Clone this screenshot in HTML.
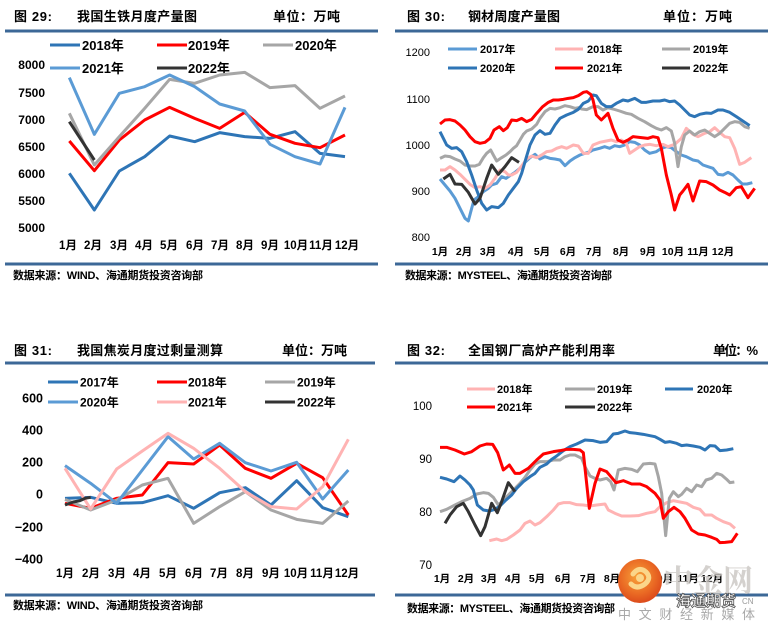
<!DOCTYPE html>
<html><head><meta charset="utf-8"><style>
html,body{margin:0;padding:0;background:#fff;}
svg{display:block;}
text{font-family:"Liberation Sans","Noto Sans CJK SC",sans-serif;fill:#000;}
.t{font-size:13px;font-weight:bold;}
.src{font-size:11px;font-weight:bold;}
.lg{font-weight:bold;}
.yl{font-weight:bold;}
.ser{fill:none;stroke-width:9;stroke-linejoin:round;stroke-linecap:butt;}
</style></head><body>
<svg width="773" height="632" viewBox="0 0 773 632" xmlns="http://www.w3.org/2000/svg">
<rect width="773" height="632" fill="#fff"/>

<!-- ============ CHART 29 ============ -->
<text class="t" x="14" y="21" textLength="38" lengthAdjust="spacing">图 29:</text>
<text class="t" x="77" y="21" textLength="120" lengthAdjust="spacing">我国生铁月度产量图</text>
<text class="t" x="273" y="21" textLength="67" lengthAdjust="spacing">单位：万吨</text>
<rect x="5" y="29.5" width="373" height="3" fill="#3C6897"/>
<g stroke-width="3">
<line x1="50" y1="45" x2="80" y2="45" stroke="#2E75B6"/>
<line x1="157" y1="45" x2="187" y2="45" stroke="#FF0000"/>
<line x1="263" y1="45" x2="293" y2="45" stroke="#A6A6A6"/>
<line x1="50" y1="68" x2="80" y2="68" stroke="#5B9BD5"/>
<line x1="157" y1="68" x2="187" y2="68" stroke="#333333"/>
</g>
<g class="lg" font-size="13">
<text x="82" y="50">2018年</text><text x="188" y="50">2019年</text><text x="295" y="50">2020年</text>
<text x="82" y="73">2021年</text><text x="188" y="73">2022年</text>
</g>
<g class="yl" font-size="12" text-anchor="end">
<text x="45" y="69">8000</text><text x="45" y="97">7500</text><text x="45" y="124">7000</text>
<text x="45" y="151">6500</text><text x="45" y="178">6000</text><text x="45" y="205">5500</text>
<text x="45" y="232">5000</text>
</g>
<g class="yl" font-size="11.5" text-anchor="middle">
<text x="68" y="249">1月</text><text x="93" y="249">2月</text><text x="119" y="249">3月</text>
<text x="144" y="249">4月</text><text x="169" y="249">5月</text><text x="195" y="249">6月</text>
<text x="220" y="249">7月</text><text x="245" y="249">8月</text><text x="270" y="249">9月</text>
<text x="296" y="249">10月</text><text x="321" y="249">11月</text><text x="347" y="249">12月</text>
</g>
<g transform="translate(30,55) scale(0.33333)">
<polyline class="ser" stroke="#2E75B6" points="118,355 193,465 268,348 344,305 419,243 494,260 569,233 644,245 720,250 795,230 870,295 945,305"/>
<polyline class="ser" stroke="#FF0000" points="118,258 193,347 268,255 344,195 419,157 494,190 569,220 644,172 720,238 795,265 870,278 945,240"/>
<polyline class="ser" stroke="#A6A6A6" points="118,175 193,330 268,245 344,160 419,73 494,85 569,60 644,52 720,98 795,92 870,160 945,123"/>
<polyline class="ser" stroke="#5B9BD5" points="118,68 193,238 268,115 344,95 419,60 494,95 569,147 644,168 720,268 795,305 870,327 945,157"/>
<polyline class="ser" stroke="#333333" points="118,200 193,315"/>
</g>
<rect x="5" y="262.5" width="373" height="3" fill="#3C6897"/>
<text class="src" x="13" y="279" textLength="190" lengthAdjust="spacing">数据来源：WIND、海通期货投资咨询部</text>

<!-- ============ CHART 30 ============ -->
<text class="t" x="407" y="21" textLength="38" lengthAdjust="spacing">图 30:</text>
<text class="t" x="468" y="21" textLength="92" lengthAdjust="spacing">钢材周度产量图</text>
<text class="t" x="663" y="21" textLength="69" lengthAdjust="spacing">单位：万吨</text>
<rect x="395" y="29.5" width="373" height="3" fill="#3C6897"/>
<g stroke-width="3">
<line x1="448" y1="49" x2="477" y2="49" stroke="#5B9BD5"/>
<line x1="555" y1="49" x2="583" y2="49" stroke="#FFB3B3"/>
<line x1="662" y1="49" x2="690" y2="49" stroke="#A6A6A6"/>
<line x1="448" y1="68" x2="477" y2="68" stroke="#2E75B6"/>
<line x1="555" y1="68" x2="583" y2="68" stroke="#FF0000"/>
<line x1="662" y1="68" x2="690" y2="68" stroke="#333333"/>
</g>
<g class="lg" font-size="11">
<text x="480" y="53">2017年</text><text x="587" y="53">2018年</text><text x="693" y="53">2019年</text>
<text x="480" y="72">2020年</text><text x="587" y="72">2021年</text><text x="693" y="72">2022年</text>
</g>
<g font-size="11" text-anchor="end">
<text x="430" y="56">1200</text><text x="430" y="103">1100</text><text x="430" y="149">1000</text>
<text x="430" y="195">900</text><text x="430" y="241">800</text>
</g>
<g class="yl" font-size="10.5" text-anchor="middle">
<text x="440" y="255">1月</text><text x="464" y="255">2月</text><text x="488" y="255">3月</text>
<text x="516" y="255">4月</text><text x="542" y="255">5月</text><text x="568" y="255">6月</text>
<text x="594" y="255">7月</text><text x="621" y="255">8月</text><text x="648" y="255">9月</text>
<text x="673" y="255">10月</text><text x="698" y="255">11月</text><text x="723" y="255">12月</text>
</g>
<g transform="translate(420,85) scale(0.33333)">
<polyline class="ser" stroke="#5B9BD5" points="60,282 75,300 90,318 105,340 120,370 135,400 145,408 155,370 162,345 175,335 190,320 205,310 215,300 230,295 245,275 258,280 270,272 285,262 300,250 315,232 330,218 345,208 360,222 375,215 390,220 405,222 420,225 435,242 450,228 465,218 480,210 495,205 510,200 519,195 539,190 554,185 569,190 584,182 599,185 614,180 629,170 644,172 659,180 674,195 689,205 709,200 724,190 739,185 754,188 769,200 784,210 799,215 819,225 834,228 849,240 864,245 879,250 894,268 909,270 924,262 939,270 954,285 967,297 981,297 997,293"/>
<polyline class="ser" stroke="#FFB3B3" points="60,255 75,255 90,245 105,255 120,268 135,283 150,298 165,308 180,305 195,310 210,300 225,280 240,255 255,260 265,270 275,270 290,262 305,243 320,222 335,213 350,218 365,210 380,200 395,198 410,190 425,185 440,190 460,180 475,183 490,205 505,205 519,180 539,172 559,168 574,165 589,170 604,165 619,175 629,205 644,195 659,185 674,180 689,178 709,182 729,178 744,185 764,178 784,160 799,130 819,148 834,155 854,145 869,140 884,128 899,142 914,155 929,158 944,190 959,238 974,232 994,218"/>
<polyline class="ser" stroke="#A6A6A6" points="60,220 75,213 90,215 105,222 120,228 135,240 150,243 165,243 178,238 190,218 200,205 212,195 220,210 230,228 245,218 258,210 270,200 280,190 290,182 300,165 310,148 320,138 335,132 350,118 360,100 375,80 390,70 405,72 420,68 435,62 450,65 465,70 475,68 485,72 500,74 519,65 534,65 549,75 564,68 579,72 599,78 619,85 634,88 654,100 674,110 694,122 709,130 724,135 739,128 754,138 764,175 774,245 784,185 794,150 809,138 824,150 839,140 854,135 869,145 884,155 899,145 914,130 929,115 944,110 959,112 974,125 989,130"/>
<polyline class="ser" stroke="#2E75B6" points="60,140 70,160 80,180 95,190 110,188 125,200 140,230 155,270 170,315 185,355 200,375 215,365 235,368 250,355 265,330 280,310 295,290 305,265 318,220 330,180 345,150 360,137 375,148 390,145 405,120 420,100 440,90 460,82 475,73 490,55 505,48 519,30 529,32 544,55 559,65 574,65 589,55 609,45 624,48 644,40 664,52 679,52 699,48 719,48 734,45 749,50 764,48 779,60 794,75 809,90 824,95 839,88 859,84 874,85 894,75 909,75 929,82 949,95 964,105 979,115 989,122"/>
<polyline class="ser" stroke="#FF0000" points="60,117 75,105 90,104 105,108 120,120 135,135 150,155 165,170 180,175 195,172 210,160 222,135 238,125 250,137 262,128 275,105 290,107 305,100 320,110 335,103 350,85 368,65 385,52 400,45 415,45 430,43 445,40 460,38 475,32 490,22 500,20 512,28 519,45 529,90 544,105 564,85 579,130 594,165 609,172 624,165 639,155 664,158 684,160 699,155 714,158 724,190 739,270 754,330 764,375 779,330 789,318 804,298 819,348 839,288 859,290 879,300 899,315 914,322 929,330 949,308 964,305 984,338 1004,310"/>
<polyline class="ser" stroke="#333333" points="70,282 90,268 105,297 125,298 145,322 165,357 180,340 200,280 215,240 235,268 255,245 275,218 297,232"/>
</g>
<rect x="395" y="262.5" width="373" height="3" fill="#3C6897"/>
<text class="src" x="405" y="279" textLength="207" lengthAdjust="spacing">数据来源：MYSTEEL、海通期货投资咨询部</text>

<!-- ============ CHART 31 ============ -->
<text class="t" x="14" y="355" textLength="38" lengthAdjust="spacing">图 31:</text>
<text class="t" x="77" y="355" textLength="146" lengthAdjust="spacing">我国焦炭月度过剩量测算</text>
<text class="t" x="282" y="355" textLength="65" lengthAdjust="spacing">单位：万吨</text>
<rect x="5" y="361.5" width="370" height="3" fill="#3C6897"/>
<g stroke-width="3">
<line x1="48" y1="382" x2="78" y2="382" stroke="#2E75B6"/>
<line x1="157" y1="382" x2="187" y2="382" stroke="#FF0000"/>
<line x1="265" y1="382" x2="295" y2="382" stroke="#A6A6A6"/>
<line x1="48" y1="402" x2="78" y2="402" stroke="#5B9BD5"/>
<line x1="157" y1="402" x2="187" y2="402" stroke="#FFB3B3"/>
<line x1="265" y1="402" x2="295" y2="402" stroke="#333333"/>
</g>
<g class="lg" font-size="12">
<text x="80" y="386.5">2017年</text><text x="188" y="386.5">2018年</text><text x="297" y="386.5">2019年</text>
<text x="80" y="406.5">2020年</text><text x="188" y="406.5">2021年</text><text x="297" y="406.5">2022年</text>
</g>
<g class="yl" font-size="12.5" text-anchor="end">
<text x="43" y="402.5">600</text><text x="43" y="434.5">400</text><text x="43" y="466.5">200</text>
<text x="43" y="498.5">0</text><text x="43" y="531.5">−200</text><text x="43" y="563.5">−400</text>
</g>
<g class="yl" font-size="11.5" text-anchor="middle">
<text x="65" y="577">1月</text><text x="91" y="577">2月</text><text x="117" y="577">3月</text>
<text x="142" y="577">4月</text><text x="168" y="577">5月</text><text x="194" y="577">6月</text>
<text x="219" y="577">7月</text><text x="245" y="577">8月</text><text x="271" y="577">9月</text>
<text x="296" y="577">10月</text><text x="322" y="577">11月</text><text x="347" y="577">12月</text>
</g>
<g transform="translate(30,380) scale(0.33333)">
<polyline class="ser" stroke="#2E75B6" points="105,355 182,352 260,370 337,368 414,347 491,385 569,338 646,323 723,375 800,302 878,383 955,410"/>
<polyline class="ser" stroke="#FF0000" points="105,370 182,385 260,355 337,345 414,248 491,252 569,195 646,265 723,295 800,250 878,293 955,405"/>
<polyline class="ser" stroke="#A6A6A6" points="105,358 182,390 260,360 337,315 414,295 491,430 569,380 646,335 723,390 800,418 878,430 955,363"/>
<polyline class="ser" stroke="#5B9BD5" points="105,257 182,310 260,370 337,270 414,170 491,237 569,190 646,248 723,273 800,247 878,357 955,270"/>
<polyline class="ser" stroke="#FFB3B3" points="105,265 182,387 260,267 337,213 414,160 491,205 569,265 646,335 723,380 800,387 878,320 955,178"/>
<polyline class="ser" stroke="#333333" points="105,375 130,366 150,362 165,355 182,352"/>
</g>
<rect x="5" y="593.5" width="370" height="3" fill="#3C6897"/>
<text class="src" x="13" y="609" textLength="190" lengthAdjust="spacing">数据来源：WIND、海通期货投资咨询部</text>

<!-- ============ CHART 32 ============ -->
<text class="t" x="407" y="355" textLength="38" lengthAdjust="spacing">图 32:</text>
<text class="t" x="468" y="355" textLength="147" lengthAdjust="spacing">全国钢厂高炉产能利用率</text>
<text class="t" x="713" y="355" textLength="45" lengthAdjust="spacing">单位：%</text>
<rect x="395" y="361.5" width="373" height="3" fill="#3C6897"/>
<g stroke-width="3">
<line x1="467" y1="389" x2="495" y2="389" stroke="#FFB3B3"/>
<line x1="565" y1="389" x2="595" y2="389" stroke="#A6A6A6"/>
<line x1="665" y1="389" x2="693" y2="389" stroke="#2E75B6"/>
<line x1="467" y1="407" x2="495" y2="407" stroke="#FF0000"/>
<line x1="565" y1="407" x2="595" y2="407" stroke="#333333"/>
</g>
<g class="lg" font-size="11">
<text x="497" y="393">2018年</text><text x="597" y="393">2019年</text><text x="697" y="393">2020年</text>
<text x="497" y="411">2021年</text><text x="597" y="411">2022年</text>
</g>
<g font-size="11.5" text-anchor="end">
<text x="432" y="410">100</text><text x="432" y="463">90</text><text x="432" y="516">80</text><text x="432" y="569">70</text>
</g>
<g class="yl" font-size="10.5" text-anchor="middle">
<text x="442" y="582">1月</text><text x="466" y="582">2月</text><text x="489" y="582">3月</text>
<text x="513" y="582">4月</text><text x="537" y="582">5月</text><text x="563" y="582">6月</text>
<text x="588" y="582">7月</text><text x="612" y="582">8月</text><text x="637" y="582">9月</text>
<text x="662" y="582">10月</text><text x="688" y="582">11月</text><text x="712" y="582">12月</text>
</g>
<g transform="translate(400,390) scale(0.33333)">
<polyline class="ser" stroke="#FFB3B3" points="268,452 290,447 305,452 320,448 340,435 360,420 375,400 390,393 405,405 420,398 440,380 460,360 475,342 490,338 510,338 530,344 550,345 570,348 590,345 615,342 625,360 645,370 665,378 690,378 715,377 740,370 765,365 780,350 800,338 820,332 840,336 860,340 880,352 900,358 915,375 935,375 950,385 970,395 990,402 1005,415"/>
<polyline class="ser" stroke="#A6A6A6" points="120,365 140,358 165,345 185,335 210,325 230,312 250,308 265,310 280,322 295,345 310,330 325,315 340,300 360,280 375,262 390,240 405,222 420,215 440,215 460,210 480,210 495,200 510,195 525,195 545,205 555,230 570,258 585,265 600,270 620,265 632,275 642,300 655,240 675,235 695,238 712,245 730,222 750,220 765,222 775,260 785,310 797,437 808,325 820,305 835,320 845,313 860,295 875,305 890,285 905,290 918,270 935,265 950,250 965,255 980,268 990,278 1003,276"/>
<polyline class="ser" stroke="#2E75B6" points="120,262 140,267 162,275 180,258 195,270 210,285 220,300 232,345 250,360 268,363 285,358 300,348 318,330 335,315 350,295 370,275 390,260 405,250 420,232 440,222 455,208 470,198 490,182 510,170 530,162 555,150 580,152 600,157 620,155 640,132 655,130 675,123 690,128 710,130 730,133 750,137 765,140 780,148 795,157 810,155 830,160 845,167 860,165 880,168 900,172 915,180 930,167 945,168 960,182 980,180 1000,176"/>
<polyline class="ser" stroke="#FF0000" points="120,172 140,172 165,180 193,192 215,185 240,168 260,162 278,163 293,188 310,240 328,225 345,250 360,250 385,235 410,210 430,192 460,185 480,182 500,178 520,178 540,180 550,188 568,355 585,280 600,237 620,245 648,278 670,272 695,282 720,282 740,290 765,310 780,330 790,385 805,365 822,352 840,365 855,385 875,420 895,432 915,435 935,442 950,448 960,458 975,457 995,455 1012,430"/>
<polyline class="ser" stroke="#333333" points="135,400 150,375 170,350 190,340 205,365 225,405 242,437 255,410 275,340 292,368 305,335 325,278 345,305"/>
</g>
<rect x="395" y="593.5" width="373" height="3" fill="#3C6897"/>
<text class="src" x="407" y="612" textLength="208" lengthAdjust="spacing">数据来源：MYSTEEL、海通期货投资咨询部</text>

<!-- watermark -->
<defs>
<radialGradient id="og" cx="0.45" cy="0.4" r="0.65">
<stop offset="0" stop-color="#F7A33A"/><stop offset="0.6" stop-color="#EA6A24"/><stop offset="1" stop-color="#D9441A"/>
</radialGradient>
</defs>
<circle cx="640" cy="581" r="22" fill="url(#og)"/>
<path d="M633,574 q6,-8 13,-2 q6,6 -1,12 q-8,6 -14,0" fill="none" stroke="#FBD68A" stroke-width="5" stroke-linecap="round"/>
<circle cx="640" cy="578" r="4" fill="#FBD68A"/>
<text x="663" y="591" font-size="30" font-weight="bold" fill="#C9C5C2" style="fill:#C9C5C2;font-family:'Noto Serif CJK SC','Noto Sans CJK SC',serif;" fill-opacity="0.8">中金网</text>
<text x="676" y="606" font-size="15" font-weight="bold" style="fill:#fff;stroke:#555;stroke-width:0.8;">海通期货</text>
<text x="742" y="604" font-size="8" style="fill:#999;">CN</text>
<text x="618" y="619" font-size="13" textLength="137" lengthAdjust="spacing" style="fill:#A8A8A8;">中文财经新媒体</text>
</svg>
</body></html>
